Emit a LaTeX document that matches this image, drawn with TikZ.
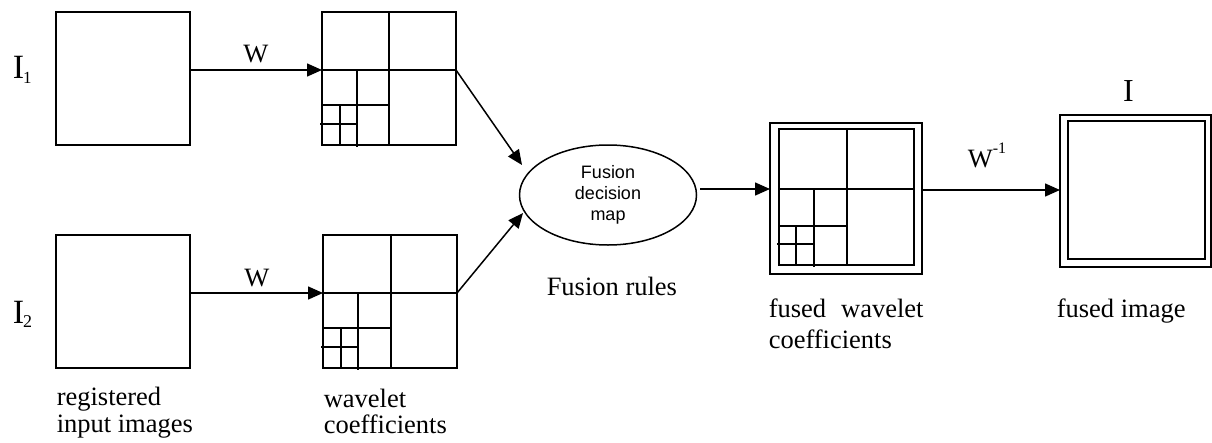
\documentclass[tikz,border=0pt]{standalone}
\usepackage{fontspec}
\setmainfont{Liberation Serif}
\setsansfont{Liberation Sans}
\usetikzlibrary{arrows.meta,shapes.geometric}
\begin{document}
\begin{tikzpicture}[x=1pt,y=-1pt, line width=1.5pt,
  box/.style={draw, rectangle, anchor=north west, inner sep=0pt, outer sep=0pt},
  arr/.style={-{Triangle[length=15pt,width=13pt]}},
  lbl/.style={font=\fontsize{26.5}{27}\selectfont, inner sep=0pt, anchor=base west},
  big/.style={font=\fontsize{34}{34}\selectfont, inner sep=0pt, anchor=base west},
  ]
\useasboundingbox (0,0) rectangle (1212,442);

% input images
\node[box, minimum width=134pt, minimum height=133pt] (in1) at (56,12) {};
\node[box, minimum width=134pt, minimum height=133pt] (in2) at (56,235) {};
\node[big] (i1) at (12,78) {I\kern-1pt\raisebox{-5pt}{\fontsize{17}{17}\selectfont 1}};
\node[big] (i2) at (12,323) {I\kern-1pt\raisebox{-4pt}{\fontsize{18}{18}\selectfont 2}};

% wavelet boxes
\node[box, minimum width=134pt, minimum height=133pt] (wav1) at (322,12) {};
\draw (389,12) -- (389,145);
\draw (322,70) -- (456,70);
\draw (357,70) -- (357,147);
\draw (322,105) -- (389,105);
\draw (340,105) -- (340,145);
\draw (320,124) -- (357,124);

\node[box, minimum width=134pt, minimum height=133pt] (wav2) at (323,235) {};
\draw (391,235) -- (391,368);
\draw (323,293) -- (457,293);
\draw (358,293) -- (358,370);
\draw (323,328) -- (391,328);
\draw (341,328) -- (341,368);
\draw (321,347) -- (358,347);

% W arrows
\coordinate (a1) at (322,70);
\coordinate (a2) at (323,293);
\draw[arr] (in1.east |- a1) -- (a1);
\draw[arr] (in2.east |- a2) -- (a2);
\node[lbl, anchor=base] (w1) at (256,62) {W};
\node[lbl, anchor=base] (w2) at (257,286) {W};

% fusion decision map
\node[draw, ellipse, minimum width=177pt, minimum height=100pt, inner sep=0pt, outer sep=0pt,
  align=center, font=\fontsize{18}{21}\sffamily] (fus) at (608,195) {Fusion\\decision\\map};
\coordinate (t1) at (522,165);
\coordinate (t2) at (523,213);
\draw[arr] (wav1.east |- a1) -- (t1);
\draw[arr] (wav2.east |- a2) -- (t2);
\node[lbl] (rules) at (546,295) {Fusion rules};

% fused wavelet coefficients
\node[box, minimum width=152pt, minimum height=151pt] (fwc) at (770,123) {};
\node[box, minimum width=135pt, minimum height=136pt] (fwci) at (779,129) {};
\draw (847,129) -- (847,265);
\draw (779,189) -- (914,189);
\draw (814,189) -- (814,267);
\draw (779,226) -- (847,226);
\draw (796,226) -- (796,265);
\draw (777,244) -- (814,244);
\coordinate (f1) at (700,189);
\draw[arr] (f1) -- (fwc.west |- f1);

% fused image
\node[box, minimum width=151pt, minimum height=152pt] (img) at (1060,115) {};
\node[box, minimum width=137pt, minimum height=138pt] (imgi) at (1068,121) {};
\node[font=\fontsize{32}{32}\selectfont, inner sep=0pt, anchor=base] (itop) at (1128.5,101) {I};
\coordinate (g1) at (922,190);
\draw[arr] (fwc.east |- g1) -- (img.west |- g1);
\node[lbl] (winv) at (967,167) {W\raisebox{14pt}{\fontsize{16}{16}\selectfont -1}};

% captions
\node[lbl] (c1a) at (56,405) {registered};
\node[lbl] (c1b) at (56,432) {input images};
\node[lbl] (c2a) at (323,407) {wavelet};
\node[lbl] (c2b) at (323,433) {coefficients};
\node[lbl] (c3a) at (768,317) {fused\hspace{15pt}wavelet};
\node[lbl] (c3b) at (768,348) {coefficients};
\node[lbl] (c4) at (1056,317) {fused image};
\end{tikzpicture}
\end{document}
